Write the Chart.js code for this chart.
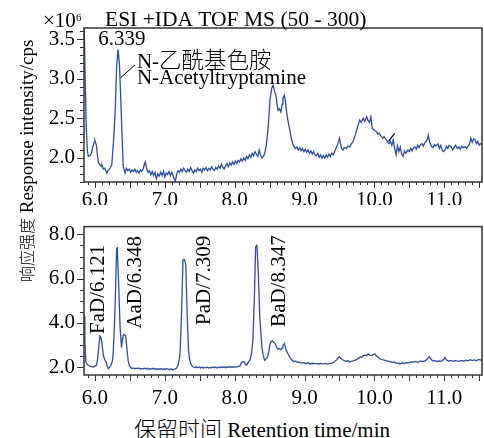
<!DOCTYPE html>
<html>
<head>
<meta charset="utf-8">
<script src="https://cdn.jsdelivr.net/npm/chart.js@4/dist/chart.umd.min.js"></script>
<style>
body { margin: 0; background: #fff; width: 484px; height: 438px; position: relative; overflow: hidden;
  font-family: 'Liberation Serif', 'Noto Sans CJK SC', serif; }
canvas { position: absolute; left: 0; }
#topChart { top: 0; }
#botChart { top: 205px; }
.lbl { position: absolute; font-weight: 300; white-space: nowrap; color: #000; }
.cjk { font-family: 'Noto Sans CJK SC', sans-serif; }
#ytitle { left: 16px; top: 282px; font-size: 19px; line-height: 21px; height: 21px;
  transform-origin: 0 0; transform: rotate(-90deg); }
#ytitle .cjk { font-size: 16px; }
#xtitle { left: 262px; top: 428px; font-size: 21px; line-height: 22px; transform: translate(-50%, -50%); }
#xtitle .cjk { font-size: 22px; }
</style>
</head>
<body>
<canvas id="topChart" width="484" height="205"></canvas>
<canvas id="botChart" width="484" height="200"></canvas>
<div class="lbl" id="ytitle"><span class="cjk">响应强度</span> Response intensity/cps</div>
<div class="lbl" id="xtitle"><span class="cjk">保留时间</span> Retention time/min</div>
<script>
// retention time axis
var xMin = 5.843, xMax = 11.54;
var xTickLabels = [6.0, 7.0, 8.0, 9.0, 10.0, 11.0];

// top panel: ESI +IDA TOF MS (50 - 300), x10^6 cps
var topTickLabels = [2.0, 2.5, 3.0, 3.5];
var topTime = [
  5.845,5.86,5.875,5.89,5.905,5.93,5.95,5.97,5.99,6.00,
  6.02,6.04,6.05,6.07,6.09,6.10,6.12,6.14,6.155,6.17,
  6.185,6.205,6.22,6.24,6.26,6.275,6.29,6.31,6.33,6.35,
  6.37,6.39,6.405,6.43,6.45,6.47,6.49,6.51,6.53,6.55,
  6.57,6.59,6.61,6.63,6.65,6.67,6.69,6.71,6.72,6.74,
  6.76,6.78,6.80,6.82,6.84,6.86,6.88,6.90,6.92,6.94,
  6.96,6.98,7.00,7.02,7.04,7.06,7.08,7.10,7.12,7.15,
  7.17,7.19,7.21,7.23,7.25,7.27,7.29,7.31,7.33,7.35,
  7.37,7.39,7.41,7.43,7.45,7.47,7.49,7.51,7.53,7.55,
  7.57,7.59,7.61,7.63,7.65,7.67,7.69,7.71,7.73,7.75,
  7.77,7.79,7.81,7.83,7.85,7.87,7.89,7.91,7.93,7.95,
  7.97,7.99,8.01,8.03,8.05,8.07,8.09,8.11,8.13,8.15,
  8.17,8.19,8.21,8.23,8.25,8.27,8.29,8.31,8.33,8.35,
  8.37,8.39,8.41,8.43,8.45,8.47,8.48,8.505,8.53,8.55,
  8.57,8.59,8.61,8.62,8.64,8.66,8.68,8.69,8.71,8.725,
  8.74,8.76,8.78,8.80,8.815,8.835,8.85,8.87,8.89,8.91,
  8.93,8.95,8.97,8.99,9.01,9.03,9.05,9.07,9.09,9.11,
  9.13,9.15,9.17,9.19,9.21,9.23,9.25,9.27,9.29,9.31,
  9.33,9.35,9.37,9.39,9.41,9.44,9.46,9.48,9.50,9.52,
  9.53,9.55,9.57,9.60,9.62,9.65,9.67,9.69,9.71,9.73,
  9.745,9.77,9.79,9.81,9.84,9.86,9.89,9.91,9.93,9.95,
  9.97,9.99,10.01,10.03,10.05,10.07,10.10,10.12,10.14,10.17,
  10.19,10.21,10.23,10.25,10.27,10.29,10.31,10.33,10.35,10.37,
  10.39,10.41,10.43,10.45,10.48,10.50,10.52,10.54,10.56,10.58,
  10.60,10.62,10.64,10.66,10.68,10.70,10.72,10.74,10.76,10.77,
  10.79,10.82,10.84,10.86,10.88,10.91,10.93,10.95,10.97,10.99,
  11.01,11.03,11.05,11.07,11.10,11.12,11.14,11.16,11.19,11.21,
  11.23,11.25,11.27,11.30,11.32,11.34,11.36,11.38,11.40,11.42,
  11.44,11.46,11.48,11.50,11.52,11.54
];
var topValue = [
  3.70,3.00,2.40,2.10,2.02,2.03,2.06,2.14,2.20,2.22,
  2.16,2.00,1.94,1.92,1.89,1.91,1.86,1.87,1.84,1.81,
  1.84,1.86,1.88,1.91,2.14,2.35,2.60,3.15,3.37,3.19,
  2.73,2.23,1.89,1.81,1.87,1.84,1.86,1.82,1.85,1.83,
  1.86,1.82,1.84,1.81,1.85,1.83,1.86,1.93,1.95,1.86,
  1.82,1.84,1.79,1.83,1.78,1.82,1.74,1.80,1.77,1.82,
  1.78,1.83,1.76,1.81,1.79,1.83,1.78,1.82,1.77,1.70,
  1.80,1.84,1.82,1.86,1.83,1.87,1.84,1.82,1.86,1.83,
  1.88,1.84,1.81,1.85,1.83,1.87,1.84,1.86,1.82,1.87,
  1.85,1.88,1.84,1.87,1.85,1.89,1.86,1.84,1.88,1.86,
  1.90,1.87,1.92,1.88,1.86,1.90,1.93,1.89,1.94,1.91,
  1.95,1.92,1.96,1.93,1.97,1.95,1.99,1.96,2.00,1.97,
  2.02,1.99,2.04,2.01,2.06,2.03,2.08,2.05,2.02,2.10,
  2.04,2.00,2.02,2.06,2.15,2.30,2.39,2.73,2.88,2.92,
  2.84,2.79,2.66,2.60,2.62,2.58,2.68,2.75,2.79,2.72,
  2.60,2.48,2.39,2.30,2.23,2.17,2.14,2.12,2.14,2.10,
  2.13,2.09,2.12,2.08,2.11,2.07,2.10,2.06,2.09,2.05,
  2.08,2.04,2.03,2.06,2.01,2.04,2.00,2.03,2.00,2.04,
  2.01,2.05,2.02,2.06,2.04,2.10,2.14,2.19,2.25,2.16,
  2.12,2.10,2.13,2.12,2.15,2.14,2.18,2.20,2.25,2.30,
  2.35,2.42,2.48,2.45,2.50,2.46,2.52,2.47,2.45,2.52,
  2.37,2.36,2.34,2.33,2.30,2.31,2.27,2.25,2.27,2.23,
  2.20,2.18,2.21,2.16,2.23,2.12,2.04,2.15,2.08,2.14,
  2.05,2.02,2.09,2.06,2.10,2.08,2.12,2.09,2.13,2.14,
  2.11,2.16,2.13,2.17,2.18,2.15,2.19,2.21,2.24,2.29,
  2.20,2.14,2.13,2.17,2.15,2.18,2.12,2.16,2.10,2.08,
  2.10,2.15,2.12,2.16,2.14,2.10,2.13,2.16,2.12,2.14,
  2.11,2.15,2.13,2.14,2.12,2.15,2.17,2.25,2.20,2.24,
  2.23,2.18,2.21,2.16,2.18,2.17
];
var leaderTime = [6.358, 6.573];
var leaderValue = [3.005, 3.173];
var markTime = [10.20, 10.29];
var markValue = [2.21, 2.31];

// bottom panel: derivatised standards
var botTickLabels = [2.0, 4.0, 6.0, 8.0];
var botTime = [
  5.843,5.855,5.87,5.89,5.905,5.93,5.95,5.976,6.00,6.02,
  6.035,6.05,6.07,6.085,6.095,6.11,6.12,6.14,6.16,6.175,
  6.19,6.21,6.23,6.25,6.26,6.275,6.29,6.31,6.32,6.34,
  6.36,6.38,6.395,6.40,6.415,6.43,6.44,6.46,6.475,6.49,
  6.51,6.525,6.55,6.57,6.59,6.61,6.63,6.65,6.67,6.69,
  6.71,6.73,6.75,6.77,6.79,6.81,6.83,6.85,6.87,6.89,
  6.91,6.93,6.95,6.97,6.99,7.01,7.03,7.05,7.07,7.09,
  7.11,7.13,7.15,7.17,7.19,7.21,7.22,7.24,7.26,7.28,
  7.30,7.32,7.34,7.355,7.37,7.39,7.41,7.43,7.45,7.47,
  7.49,7.51,7.53,7.55,7.57,7.59,7.61,7.63,7.65,7.67,
  7.69,7.71,7.73,7.75,7.77,7.79,7.81,7.83,7.85,7.87,
  7.89,7.91,7.93,7.95,7.97,7.99,8.01,8.03,8.05,8.075,
  8.10,8.13,8.15,8.17,8.19,8.22,8.24,8.26,8.28,8.30,
  8.315,8.32,8.34,8.36,8.39,8.41,8.43,8.45,8.47,8.49,
  8.505,8.52,8.54,8.56,8.58,8.60,8.62,8.64,8.66,8.68,
  8.69,8.71,8.725,8.74,8.765,8.79,8.815,8.84,8.87,8.90,
  8.93,8.96,8.99,9.02,9.05,9.08,9.11,9.14,9.17,9.20,
  9.23,9.26,9.29,9.32,9.36,9.40,9.43,9.46,9.48,9.50,
  9.52,9.545,9.57,9.60,9.625,9.65,9.68,9.71,9.745,9.77,
  9.80,9.82,9.84,9.87,9.89,9.91,9.935,9.96,9.985,10.01,
  10.03,10.055,10.08,10.11,10.14,10.17,10.20,10.22,10.25,10.28,
  10.31,10.34,10.37,10.40,10.43,10.46,10.49,10.52,10.56,10.59,
  10.62,10.66,10.70,10.73,10.76,10.785,10.81,10.84,10.87,10.90,
  10.93,10.96,10.99,11.01,11.03,11.06,11.09,11.12,11.15,11.19,
  11.22,11.25,11.28,11.31,11.34,11.37,11.40,11.43,11.46,11.49,
  11.52,11.54
];
var botValue = [
  4.30,3.20,2.23,2.12,2.09,2.04,2.03,2.01,2.05,2.09,
  2.30,2.75,3.41,3.35,3.19,2.80,2.53,2.35,2.23,2.05,
  1.94,2.00,2.09,2.30,2.60,3.60,4.95,7.37,7.40,5.68,
  3.77,2.89,3.30,3.41,3.48,3.45,3.41,2.75,2.30,2.09,
  2.00,1.94,1.97,1.93,1.96,1.94,1.97,1.92,1.95,1.93,
  1.96,1.92,1.95,1.91,1.94,1.92,1.95,1.91,1.94,1.90,
  1.93,1.91,1.94,1.90,1.93,1.91,1.94,1.92,1.89,1.92,
  1.88,1.91,1.93,1.96,2.10,2.40,2.75,4.51,6.86,6.86,
  6.64,4.36,2.75,2.35,2.16,2.06,2.01,1.99,2.02,1.98,
  2.01,1.97,2.00,1.96,1.99,1.97,2.00,1.96,1.99,1.97,
  2.01,1.98,2.00,1.97,2.01,1.98,2.02,1.99,2.01,1.98,
  2.02,2.00,2.03,2.00,2.02,2.00,2.03,2.01,2.04,2.06,
  2.23,2.26,2.15,2.09,2.20,2.34,2.60,3.19,4.95,7.44,
  7.50,7.44,6.12,4.21,2.89,2.50,2.31,2.38,2.45,2.75,
  3.04,3.15,3.19,3.12,3.04,2.90,2.82,2.85,2.79,2.88,
  2.97,3.07,2.92,2.75,2.60,2.45,2.35,2.26,2.27,2.22,
  2.23,2.19,2.21,2.17,2.20,2.15,2.18,2.16,2.16,2.14,
  2.17,2.15,2.17,2.14,2.16,2.20,2.25,2.34,2.42,2.48,
  2.40,2.34,2.30,2.27,2.30,2.23,2.28,2.30,2.34,2.40,
  2.47,2.45,2.53,2.55,2.52,2.60,2.55,2.53,2.57,2.60,
  2.50,2.45,2.38,2.35,2.32,2.30,2.27,2.26,2.22,2.24,
  2.19,2.18,2.16,2.20,2.17,2.21,2.20,2.24,2.23,2.26,
  2.22,2.27,2.26,2.30,2.38,2.48,2.36,2.28,2.30,2.26,
  2.29,2.27,2.35,2.45,2.33,2.28,2.31,2.27,2.30,2.28,
  2.28,2.31,2.27,2.32,2.29,2.34,2.30,2.33,2.29,2.35,
  2.32,2.34
];

var FONT = "'Liberation Serif', 'Noto Sans CJK SC', serif";
var LINE_BLUE = '#2c4f9f';
Chart.defaults.font.family = FONT;
Chart.defaults.font.size = 21;
Chart.defaults.color = '#000';

function pts(ts, vs) {
  return ts.map(function (t, i) { return { x: t, y: vs[i] }; });
}

// box, minor/major ticks and text notes
var framePlugin = {
  id: 'frame',
  afterDraw: function (chart, args, o) {
    var ctx = chart.ctx, a = chart.chartArea, xs = chart.scales.x, ys = chart.scales.y;
    ctx.save();
    ctx.strokeStyle = '#333';
    ctx.lineWidth = 1.5;
    ctx.strokeRect(a.left, a.top, a.right - a.left, a.bottom - a.top);
    ctx.lineWidth = 1;
    ctx.beginPath();
    var k, v, p, big;
    for (k = Math.ceil(xs.min / o.xStep); k * o.xStep <= xs.max; k++) {
      v = k * o.xStep;
      big = Math.abs(v / o.xMajor - Math.round(v / o.xMajor)) < 1e-6;
      p = Math.round(xs.getPixelForValue(v)) + 0.5;
      ctx.moveTo(p, a.bottom);
      ctx.lineTo(p, a.bottom + (big ? 6 : 3));
    }
    for (k = Math.ceil(ys.min / o.yStep); k * o.yStep <= ys.max; k++) {
      v = k * o.yStep;
      big = Math.abs(v / o.yMajor - Math.round(v / o.yMajor)) < 1e-6;
      p = Math.round(ys.getPixelForValue(v)) + 0.5;
      ctx.moveTo(a.left, p);
      ctx.lineTo(a.left - (big ? 7 : 4), p);
    }
    ctx.stroke();
    ctx.fillStyle = '#000';
    ctx.textBaseline = 'middle';
    (o.notes || []).forEach(function (n) {
      var px = xs.getPixelForValue(n.t), py = ys.getPixelForValue(n.v);
      ctx.save();
      ctx.translate(px, py);
      if (n.rot) ctx.rotate(-Math.PI / 2);
      ctx.textAlign = n.align || 'center';
      if (n.parts) {
        // mixed Latin / CJK line, drawn piece by piece
        var cx = 0;
        ctx.textAlign = 'left';
        n.parts.forEach(function (pt) {
          ctx.font = '300 ' + pt[1] + 'px ' + FONT;
          ctx.fillText(pt[0], cx, 0);
          cx += ctx.measureText(pt[0]).width;
        });
      } else {
        ctx.font = '21px ' + FONT;
        ctx.fillText(n.text, 0, 0);
      }
      ctx.restore();
    });
    if (o.header) {
      ctx.textBaseline = 'alphabetic';
      ctx.textAlign = 'left';
      ctx.font = '21.5px ' + FONT;
      ctx.fillText('ESI +IDA TOF MS (50 - 300)', 105, 26);
      ctx.font = '21px ' + FONT;
      ctx.fillText('\u00d710', 43, 27);
      ctx.font = '11px ' + FONT;
      ctx.fillText('6', 76, 21);
    }
    ctx.restore();
  }
};

function makeChart(id, datasets, cfg) {
  return new Chart(document.getElementById(id), {
    type: 'line',
    data: { datasets: datasets },
    options: {
      responsive: false,
      animation: false,
      layout: { padding: { top: cfg.padTop, right: 2, left: 0, bottom: 0 } },
      plugins: { legend: { display: false }, tooltip: { enabled: false }, frame: cfg.frame },
      elements: { point: { radius: 0 }, line: { tension: 0 } },
      scales: {
        x: {
          type: 'linear', min: xMin, max: xMax,
          afterBuildTicks: function (s) { s.ticks = xTickLabels.map(function (v) { return { value: v }; }); },
          afterFit: function (s) { s.height = cfg.axisH; },
          ticks: { autoSkip: false, maxRotation: 0, padding: cfg.xPad,
            callback: function (v) { return v.toFixed(1); } },
          grid: { display: false, drawTicks: false },
          border: { display: false }
        },
        y: {
          min: cfg.yMin, max: cfg.yMax,
          afterBuildTicks: function (s) { s.ticks = cfg.yTicks.map(function (v) { return { value: v }; }); },
          afterFit: function (s) { s.width = 84; },
          ticks: { padding: 9, callback: function (v) { return v.toFixed(1); } },
          grid: { display: false, drawTicks: false },
          border: { display: false }
        }
      }
    },
    plugins: [framePlugin]
  });
}

makeChart('topChart', [
  { data: pts(topTime, topValue), borderColor: LINE_BLUE, borderWidth: 1.3 },
  { data: pts(leaderTime, leaderValue), borderColor: '#000', borderWidth: 1 },
  { data: pts(markTime, markValue), borderColor: '#000', borderWidth: 1.2 }
], {
  padTop: 28, axisH: 23, xPad: 6, yMin: 1.697, yMax: 3.639, yTicks: topTickLabels,
  frame: {
    xStep: 0.1, xMajor: 0.5, yStep: 0.1, yMajor: 0.5, header: true,
    notes: [
      { text: '6.339', t: 6.386, v: 3.49 },
      { parts: [['N-', 21], ['乙酰基色胺', 22.5]], t: 6.60, v: 3.21 },
      { text: 'N-Acetyltryptamine', t: 6.60, v: 3.00, align: 'left' }
    ]
  }
});

makeChart('botChart', [
  { data: pts(botTime, botValue), borderColor: LINE_BLUE, borderWidth: 1.3 }
], {
  padTop: 18, axisH: 30, xPad: 11, yMin: 1.65, yMax: 8.35, yTicks: botTickLabels,
  frame: {
    xStep: 0.1, xMajor: 0.5, yStep: 0.5, yMajor: 2.0,
    notes: [
      { text: 'FaD/6.121', t: 6.05, v: 5.52, rot: true },
      { text: 'AaD/6.348', t: 6.583, v: 5.83, rot: true },
      { text: 'PaD/7.309', t: 7.567, v: 5.92, rot: true },
      { text: 'BaD/8.347', t: 8.648, v: 5.89, rot: true }
    ]
  }
});
</script>
</body>
</html>
